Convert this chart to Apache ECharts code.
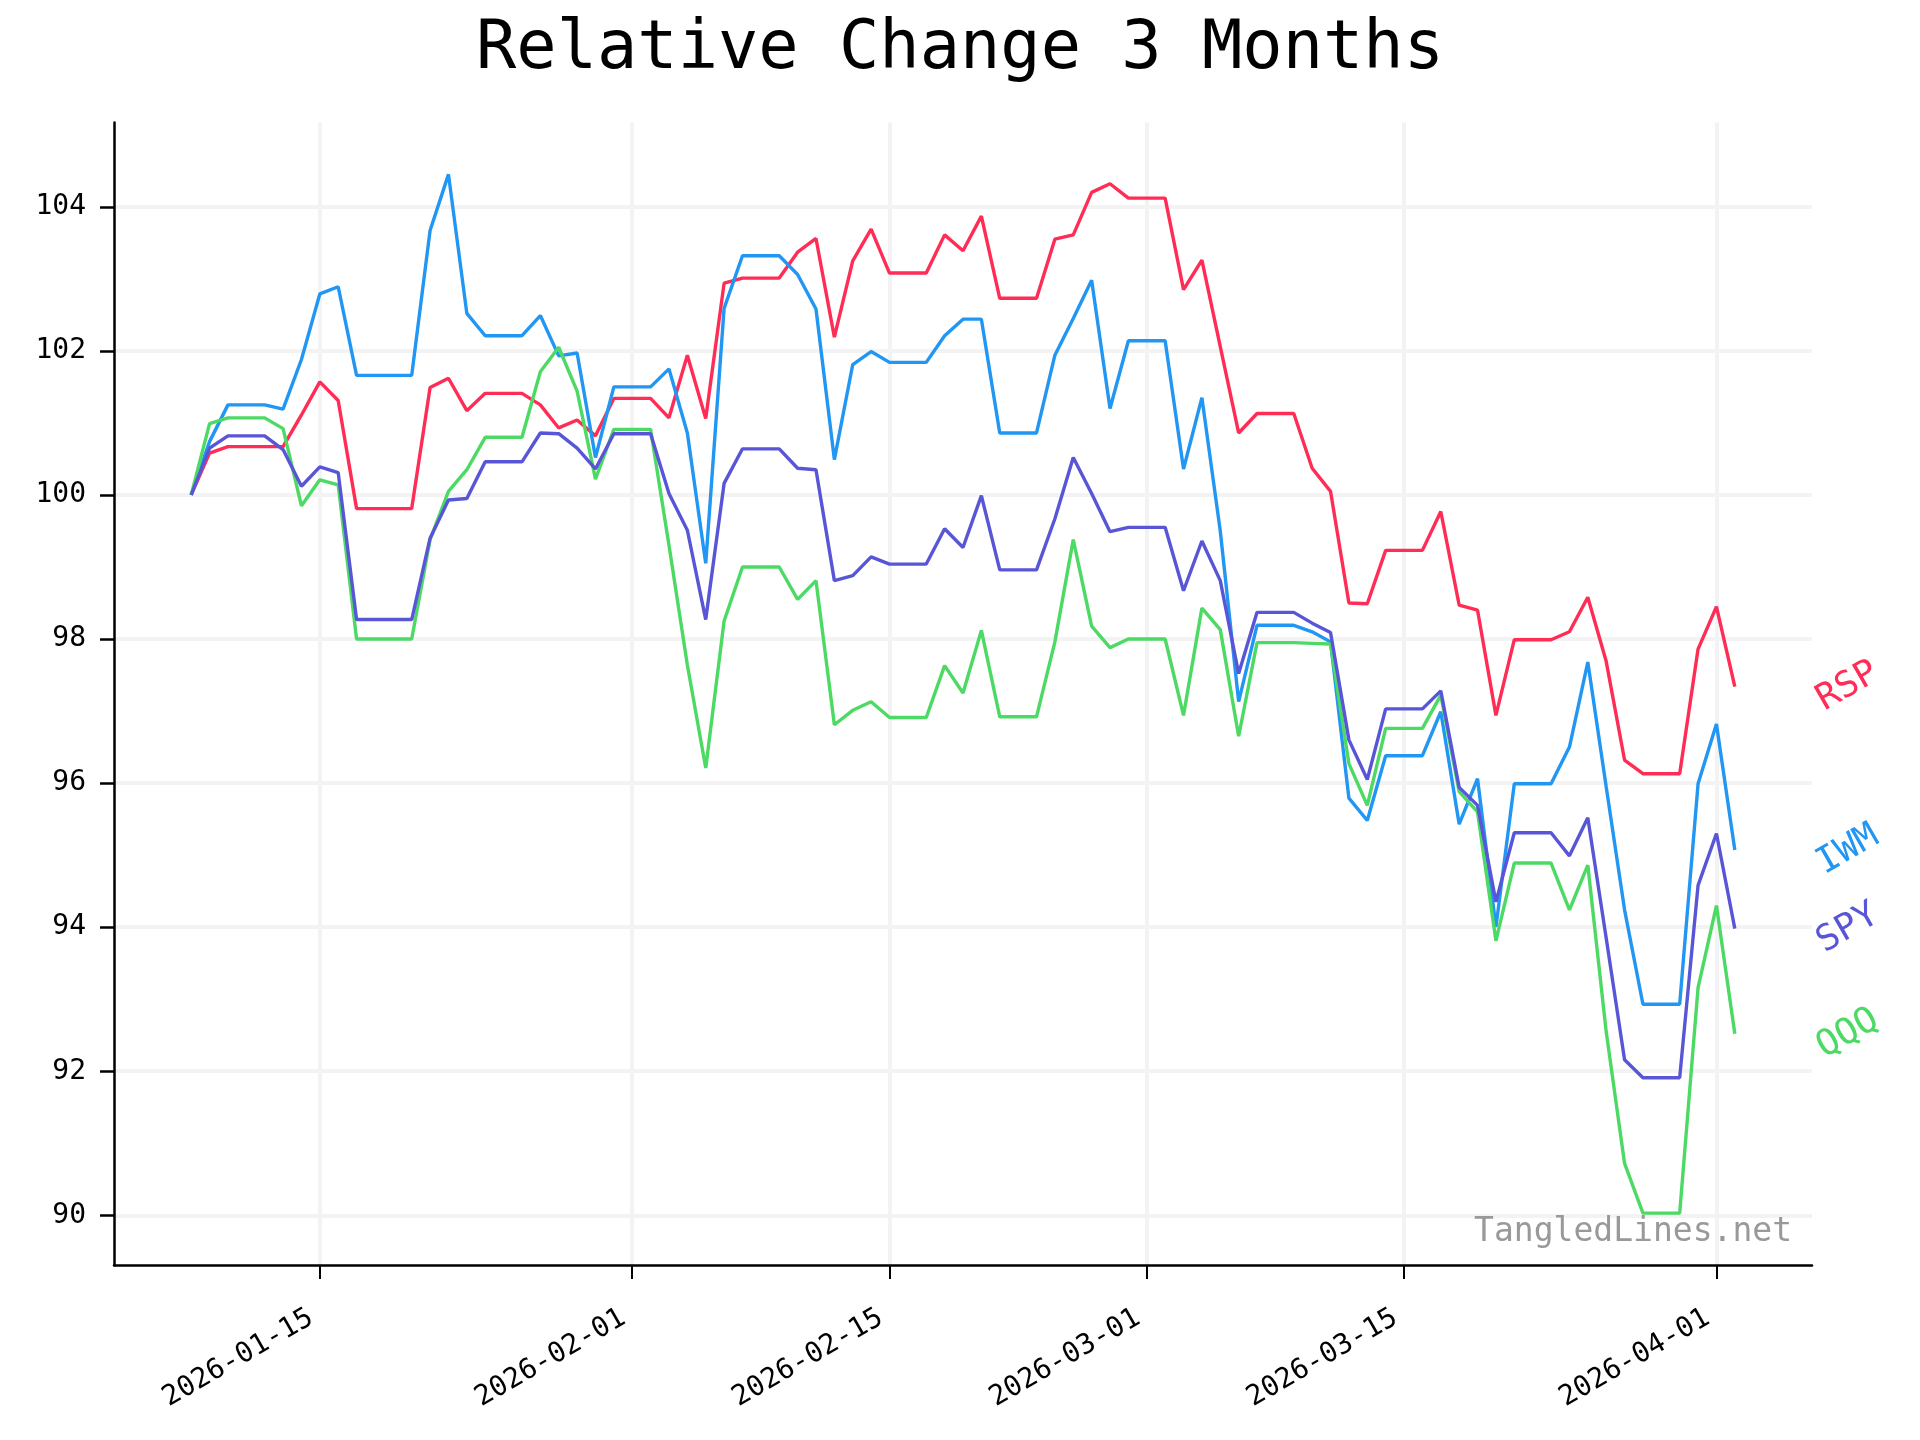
<!DOCTYPE html>
<html>
<head>
<meta charset="utf-8">
<script src="https://cdn.jsdelivr.net/npm/echarts@6/dist/echarts.min.js"></script>
<style>
html,body{margin:0;padding:0;background:#fff;}
#chart{width:1920px;height:1440px;}
</style>
</head>
<body>
<div id="chart"></div>
<script>
// ---- data ----
const startDate = '2026-01-08';   // first daily point
const RSP = [100,100.58,100.67,100.67,100.67,100.67,101.11,101.57,101.31,99.81,99.81,99.81,99.81,101.49,101.62,101.17,101.41,101.41,101.41,101.25,100.93,101.04,100.82,101.34,101.34,101.34,101.07,101.94,101.06,102.94,103.01,103.01,103.01,103.37,103.56,102.19,103.25,103.69,103.08,103.08,103.08,103.61,103.39,103.87,102.73,102.73,102.73,103.55,103.61,104.20,104.32,104.12,104.12,104.12,102.85,103.26,102.06,100.86,101.13,101.13,101.13,100.37,100.05,98.50,98.49,99.23,99.23,99.23,99.77,98.47,98.40,96.94,97.99,97.99,97.99,98.10,98.58,97.69,96.32,96.13,96.13,96.13,97.86,98.45,97.34];
const IWM = [100,100.74,101.25,101.25,101.25,101.19,101.88,102.79,102.89,101.66,101.66,101.66,101.66,103.67,104.45,102.52,102.21,102.21,102.21,102.49,101.93,101.97,100.52,101.50,101.50,101.50,101.75,100.86,99.05,102.59,103.32,103.32,103.32,103.06,102.58,100.49,101.81,101.99,101.84,101.84,101.84,102.21,102.44,102.44,100.86,100.86,100.86,101.94,102.45,102.98,101.20,102.14,102.14,102.14,100.36,101.35,99.50,97.13,98.19,98.19,98.19,98.10,97.96,95.79,95.48,96.38,96.38,96.38,96.99,95.43,96.06,94.00,95.99,95.99,95.99,96.50,97.68,95.95,94.24,92.93,92.93,92.93,95.99,96.82,95.07];
const SPY = [100,100.65,100.82,100.82,100.82,100.63,100.12,100.39,100.31,98.27,98.27,98.27,98.27,99.40,99.93,99.95,100.46,100.46,100.46,100.86,100.85,100.65,100.36,100.85,100.85,100.85,100.02,99.51,98.27,100.16,100.64,100.64,100.64,100.37,100.35,98.81,98.88,99.14,99.04,99.04,99.04,99.53,99.27,99.99,98.96,98.96,98.96,99.67,100.52,100.02,99.49,99.55,99.55,99.55,98.67,99.36,98.81,97.52,98.37,98.37,98.37,98.22,98.09,96.60,96.05,97.03,97.03,97.03,97.28,95.94,95.69,94.35,95.31,95.31,95.31,94.99,95.52,93.85,92.16,91.91,91.91,91.91,94.58,95.30,93.98];
const QQQ = [100,100.99,101.07,101.07,101.07,100.92,99.85,100.21,100.14,98.00,98.00,98.00,98.00,99.38,100.05,100.35,100.80,100.80,100.80,101.71,102.05,101.44,100.22,100.91,100.91,100.91,99.30,97.64,96.21,98.25,99.00,99.00,99.00,98.55,98.81,96.81,97.01,97.13,96.91,96.91,96.91,97.63,97.25,98.12,96.92,96.92,96.92,97.96,99.38,98.18,97.88,98.00,98.00,98.00,96.94,98.43,98.13,96.65,97.95,97.95,97.95,97.94,97.93,96.27,95.69,96.76,96.76,96.76,97.22,95.88,95.60,93.81,94.89,94.89,94.89,94.24,94.86,92.55,90.72,90.03,90.03,90.03,93.16,94.30,92.52];
const seriesNames = ['RSP','IWM','QQQ','SPY'];
const xTickLabels = ['2026-01-15','2026-02-01','2026-02-15','2026-03-01','2026-03-15','2026-04-01'];
const yTickValues = [90,92,94,96,98,100,102,104];
const titleText = 'Relative Change 3 Months';
const watermark = 'TangledLines.net';

// ---- helpers ----
const DAY = 86400000;
function ts(s){ const p = s.split('-').map(Number); return Date.UTC(p[0], p[1]-1, p[2]); }
function fmt(t){ const d = new Date(Math.round(t)); const m = d.getUTCMonth()+1, dd = d.getUTCDate();
  return d.getUTCFullYear() + '-' + (m<10?'0':'') + m + '-' + (dd<10?'0':'') + dd; }
const dates = [];
{ const t0 = ts(startDate); for (let i=0;i<RSP.length;i++){ dates.push(t0 + i*DAY); } }
const seriesData = {RSP, IWM, SPY, QQQ};
const colors = {RSP:'#FF2D55', IWM:'#2196F3', SPY:'#5856D6', QQQ:'#4CD964'};
const xTicks = xTickLabels.map(ts);

const MONO = '"DejaVu Sans Mono", monospace';

const chart = echarts.init(document.getElementById('chart'), null, {renderer:'canvas'});

const series = [{
  type:'line', data:[[dates[0], 100]], silent:true, z:0, showSymbol:false, symbol:'none',
  lineStyle:{opacity:0},
  markLine:{
    silent:true, symbol:'none', animation:false, z:0,
    label:{show:false},
    lineStyle:{color:'#f3f3f3', width:4, type:'solid'},
    data: yTickValues.map(v=>({yAxis:v})).concat(xTicks.map(t=>({xAxis:t})))
  }
}];
seriesNames.forEach(n=>{
  series.push({
    name:n, type:'line', showSymbol:false, symbol:'none', z:3,
    data: dates.map((t,i)=>[t, seriesData[n][i]]),
    lineStyle:{color:colors[n], width:3.4},
    itemStyle:{color:colors[n]},
    endLabel:{
      show:true, formatter:n, color:colors[n],
      fontFamily:MONO, fontSize:36, rotate:30,
      align:'center', verticalAlign:'middle', offset:[91,52.5]
    }
  });
});

chart.setOption({
  animation:false,
  backgroundColor:'#ffffff',
  title:{
    text:titleText, left:'center', top:12,
    textStyle:{fontFamily:MONO, fontSize:67, fontWeight:'normal', color:'#000'}
  },
  grid:{left:114, right:108, top:122.5, bottom:175},
  xAxis:{
    type:'value',
    min: dates[0] - 4.2*DAY,
    max: dates[dates.length-1] + 4.2*DAY,
    axisLine:{show:true, onZero:false, lineStyle:{color:'#000', width:2.5}},
    axisTick:{show:true, customValues:xTicks, length:14, lineStyle:{color:'#000', width:2}},
    axisLabel:{customValues:xTicks, rotate:30, margin:46, color:'#000',
      padding:[0,10,0,0],
      fontFamily:MONO, fontSize:28, formatter:v=>fmt(v)},
    splitLine:{show:false}
  },
  yAxis:{
    type:'value', min:89.31, max:105.17,
    axisLine:{show:true, lineStyle:{color:'#000', width:2.5}},
    axisTick:{show:true, customValues:yTickValues, length:14, lineStyle:{color:'#000', width:2.5}},
    axisLabel:{customValues:yTickValues, margin:28, color:'#000',
      fontFamily:MONO, fontSize:28, formatter:v=>String(v)},
    splitLine:{show:false}
  },
  graphic:[{
    type:'text', right:128, top:1216, z:10,
    style:{text:watermark, font:'33px "DejaVu Sans Mono"', fill:'#999999'}
  }],
  series:series
});
</script>
</body>
</html>
